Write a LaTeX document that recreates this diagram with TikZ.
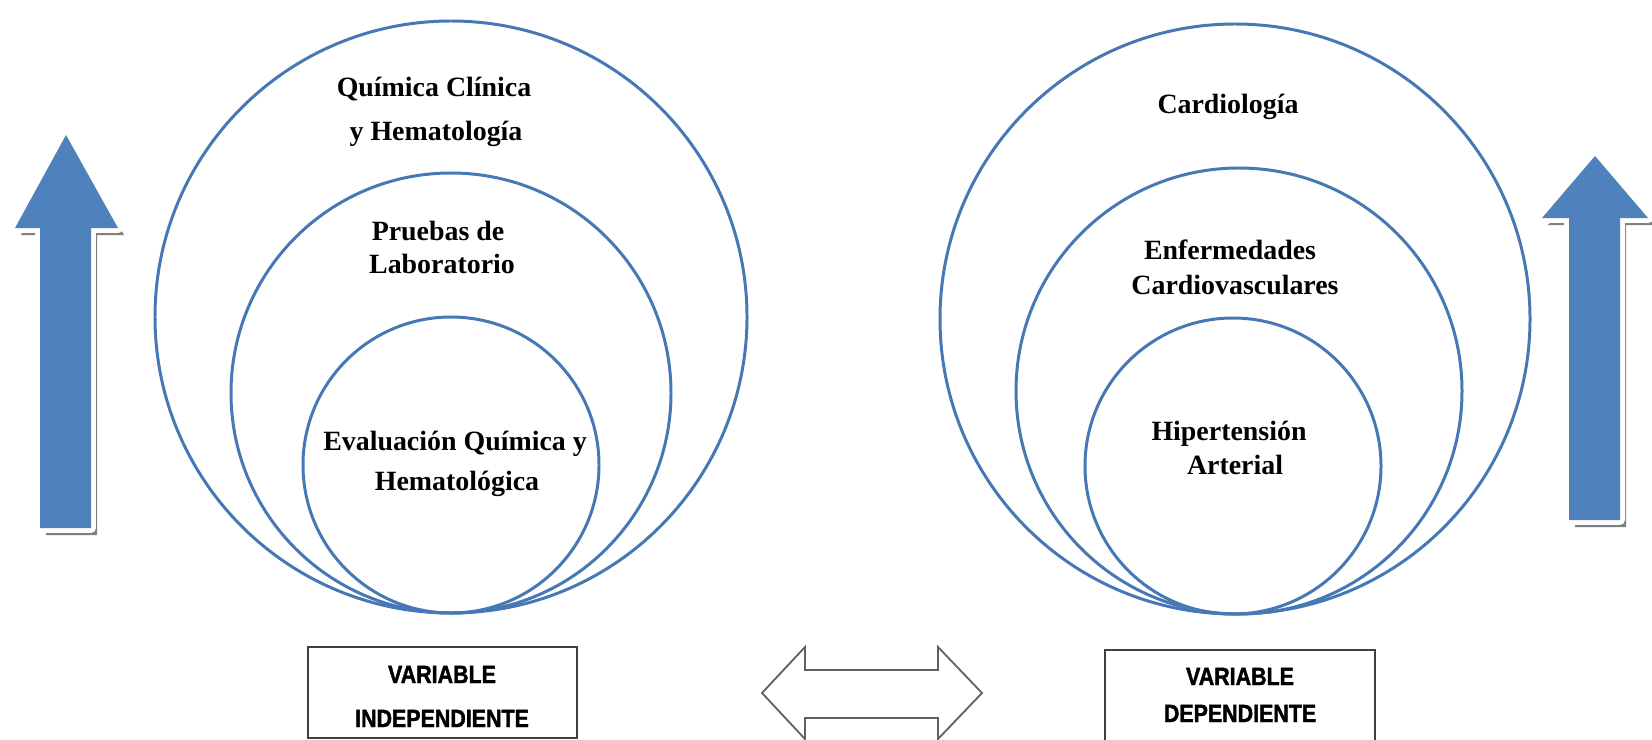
\documentclass[tikz,border=0pt]{standalone}
\usepackage{fontspec}
\setmainfont{Liberation Serif}
\newfontfamily\boxfont[FakeStretch=0.86, FakeBold=1.6]{Liberation Sans Bold}
\definecolor{circblue}{RGB}{70,120,182}
\definecolor{arrblue}{RGB}{79,129,189}
\definecolor{shadowgray}{RGB}{128,128,128}
\definecolor{boxgray}{RGB}{64,64,64}
\definecolor{dblgray}{RGB}{96,96,96}
\newcommand{\arrowLeftPath}{(66,135) -- (118,228) -- (91,228) -- (91,528) -- (40,528) -- (40,228) -- (15,228) -- cycle}
\newcommand{\arrowRightPath}{(1595,156) -- (1648,218) -- (1620,218) -- (1620,520) -- (1569,520) -- (1569,218) -- (1542,218) -- cycle}
\begin{document}
\begin{tikzpicture}[x=1bp,y=-1bp,
  ring/.style={draw=circblue, line width=3pt},
  lbl/.style={anchor=base, inner sep=0pt, font=\bfseries\fontsize{28}{33}\selectfont},
  varbox/.style={draw=boxgray, line width=1.8pt, fill=white, inner sep=0pt},
  vtxt/.style={anchor=base, inner sep=0pt, font=\boxfont\fontsize{25}{28}\selectfont},
  upshadow/.style={fill=shadowgray},
  uphalo/.style={draw=white, line width=10pt, line join=round},
  upfill/.style={fill=arrblue},
  dblarrow/.style={draw=dblgray, line width=1.8pt, fill=white, line join=miter}]
\useasboundingbox (0,0) rectangle (1652,740);
\clip (0,0) rectangle (1652,740);
\fill[white] (0,0) rectangle (1652,740);

% up arrows with shadow
\fill[upshadow, shift={(6,7)}] \arrowLeftPath;
\draw[uphalo] \arrowLeftPath;
\fill[upfill] \arrowLeftPath;
\fill[upshadow, shift={(6,7)}] \arrowRightPath;
\draw[uphalo] \arrowRightPath;
\fill[upfill] \arrowRightPath;

% left circles
\draw[ring] (451,317) circle[radius=296bp];
\draw[ring] (451,393) circle[radius=220bp];
\draw[ring] (451,465) circle[radius=148bp];

% right circles
\draw[ring] (1235,319) circle[radius=295bp];
\draw[ring] (1239,391) circle[radius=223bp];
\draw[ring] (1233,466) circle[radius=148bp];

% left labels
\node[lbl] (q1) at (434,96) {Química Clínica};
\node[lbl] (q2) at (436,140) {y Hematología};
\node[lbl] (p1) at (438,240) {Pruebas de};
\node[lbl] (p2) at (442,273) {Laboratorio};
\node[lbl] (e1) at (455,450) {Evaluación Química y};
\node[lbl] (e2) at (457,490) {Hematológica};

% right labels
\node[lbl] (c1) at (1228,113) {Cardiología};
\node[lbl] (d1) at (1230,259) {Enfermedades};
\node[lbl] (d2) at (1235,294) {Cardiovasculares};
\node[lbl] (h1) at (1229,440) {Hipertensión};
\node[lbl] (h2) at (1235,474) {Arterial};

% boxes
\node[varbox, minimum width=269bp, minimum height=91bp] (vi) at (442.5,692.5) {};
\node[vtxt] (vi1) at (442,683) {VARIABLE};
\node[vtxt] (vi2) at (442,727) {INDEPENDIENTE};
\node[varbox, minimum width=270bp, minimum height=96bp] (vd) at (1240,698) {};
\node[vtxt] (vd1) at (1240,685) {VARIABLE};
\node[vtxt] (vd2) at (1240,722) {DEPENDIENTE};

% double arrow
\draw[dblarrow] (762,693) -- (805,647) -- (805,670) -- (938,670) -- (938,647) -- (982,693) -- (938,739) -- (938,718) -- (805,718) -- (805,739) -- cycle;
\end{tikzpicture}
\end{document}
